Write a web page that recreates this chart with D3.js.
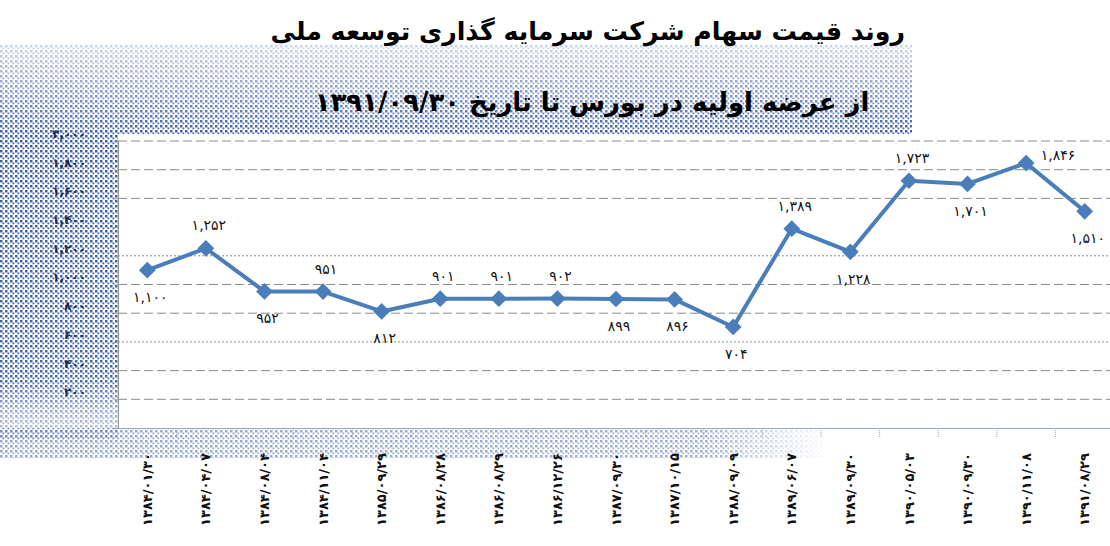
<!DOCTYPE html>
<html>
<head>
<meta charset="utf-8">
<script src="https://cdn.jsdelivr.net/npm/d3@7"></script>
<style>
  body { margin: 0; background: #fff; }
  svg { display: block; }
</style>
</head>
<body>
<div id="chart"></div>
<script>
// dates of each trading point (Persian calendar)
var dates = [
  "۱۳۸۴/۰۱/۳۰", "۱۳۸۴/۰۴/۰۷", "۱۳۸۴/۰۸/۰۴", "۱۳۸۴/۱۱/۰۴", "۱۳۸۵/۰۹/۲۹",
  "۱۳۸۶/۰۸/۲۸", "۱۳۸۶/۰۸/۲۹", "۱۳۸۶/۱۲/۲۶", "۱۳۸۷/۰۹/۳۰", "۱۳۸۷/۱۰/۱۵",
  "۱۳۸۸/۰۹/۰۹", "۱۳۸۹/۰۶/۰۷", "۱۳۸۹/۰۹/۳۰", "۱۳۹۰/۰۵/۰۳", "۱۳۹۰/۰۹/۳۰",
  "۱۳۹۰/۱۱/۰۸", "۱۳۹۱/۰۸/۲۹"
];
var prices = [1100, 1252, 952, 951, 812, 901, 901, 902, 899, 896, 704, 1389, 1228, 1723, 1701, 1846, 1510];
var yTicks = [200, 400, 600, 800, 1000, 1200, 1400, 1600, 1800, 2000];
var title1 = "روند قیمت سهام شرکت سرمایه گذاری توسعه ملی";
var title2 = "از عرضه اولیه در بورس تا تاریخ ۱۳۹۱/۰۹/۳۰";

// where excel put each data label (a = above, b = below, r = right)
var labelPlace = ["b","a","b","a","b","a","a","a","b","b","b","a","b","a","b","r","b"];

var W = 1110, H = 546;
var plotLeft = 118, plotRight = 1114, plotTop = 141, plotBottom = 428;
var blue = "#4a7ebb";
var fa = "DejaVu Sans, sans-serif";

function faDigits(s) {
  return String(s).replace(/\d/g, function(d) { return "۰۱۲۳۴۵۶۷۸۹"[+d]; });
}

var svg = d3.select("#chart").append("svg")
  .attr("width", W)
  .attr("height", H);

var defs = svg.append("defs");

// halftone look of the scanned background
var pat = defs.append("pattern")
  .attr("id", "dots")
  .attr("width", 5).attr("height", 5)
  .attr("patternUnits", "userSpaceOnUse");
pat.append("rect").attr("width", 2.5).attr("height", 2.5).attr("fill", "#3d5fa5");
pat.append("rect").attr("x", 2.5).attr("y", 2.5).attr("width", 1.8).attr("height", 1.8).attr("fill", "#3d5fa5");

function fadeGrad(id, x2, y2, stops) {
  var g = defs.append("linearGradient").attr("id", id)
    .attr("x1", 0).attr("y1", 0).attr("x2", x2).attr("y2", y2);
  stops.forEach(function(s) {
    g.append("stop").attr("offset", s[0]).attr("stop-color", "#fff").attr("stop-opacity", s[1]);
  });
  var m = defs.append("mask").attr("id", id + "M").attr("maskContentUnits", "objectBoundingBox");
  m.append("rect").attr("width", 1).attr("height", 1).attr("fill", "url(#" + id + ")");
}
fadeGrad("gTitle", 0, 1, [[0, 0.25], [0.5, 0.6], [1, 1]]);
fadeGrad("gLeft", 0, 1, [[0, 1], [0.8, 0.95], [0.9, 0.55], [1, 0.3]]);
fadeGrad("gBottom", 1, 0, [[0, 0.55], [0.85, 0.5], [1, 0]]);

svg.append("rect").attr("x", 0).attr("y", 44).attr("width", 912).attr("height", 90)
  .attr("fill", "url(#dots)").attr("mask", "url(#gTitleM)");
svg.append("rect").attr("x", 0).attr("y", 134).attr("width", plotLeft).attr("height", 306)
  .attr("fill", "url(#dots)").attr("mask", "url(#gLeftM)");
svg.append("rect").attr("x", 0).attr("y", 428).attr("width", 830).attr("height", 30)
  .attr("fill", "url(#dots)").attr("mask", "url(#gBottomM)");

// plot area
svg.append("rect")
  .attr("x", plotLeft).attr("y", plotTop)
  .attr("width", plotRight - plotLeft).attr("height", plotBottom - plotTop)
  .attr("fill", "#fff");

var x = d3.scaleBand()
  .domain(d3.range(prices.length))
  .range([plotLeft, plotRight]);

var y = d3.scaleLinear()
  .domain([0, 2000])
  .range([plotBottom, plotTop]);

// gridlines: the scan shows a mix of dashed and dotted ones
function gridDash(v) {
  if (v == 1200 || v == 600) return "2,2";
  return "9,4";
}
svg.append("g").selectAll("line")
  .data(yTicks.filter(function(v) { return v != 1400; }))
  .enter()
  .append("line")
  .attr("x1", plotLeft).attr("x2", W)
  .attr("y1", function(d) { return y(d); })
  .attr("y2", function(d) { return y(d); })
  .attr("stroke", "#8c8c8c")
  .attr("stroke-width", 1)
  .attr("stroke-dasharray", gridDash);

// y axis
var yAxis = svg.append("g")
  .attr("transform", "translate(" + plotLeft + ",0)")
  .call(d3.axisLeft(y).tickValues(yTicks).tickSize(4).tickPadding(28)
    .tickFormat(function(d) { return faDigits(d3.format(",")(d)); }));
yAxis.select(".domain").attr("stroke", "#999");
yAxis.selectAll(".tick line").attr("stroke", "#999");
yAxis.selectAll("text")
  .attr("font-family", fa)
  .attr("font-size", 12)
  .attr("font-weight", "bold")
  .attr("letter-spacing", 2)
  .attr("fill", "#1a2a50")
  .attr("dy", "-0.3em");

// x axis
var xAxis = svg.append("g")
  .attr("transform", "translate(0," + plotBottom + ")")
  .call(d3.axisBottom(x).tickSize(0).tickFormat(function(i) { return dates[i]; }));
xAxis.select(".domain").attr("stroke", "#9aa6b8");
xAxis.selectAll("text")
  .attr("font-family", fa)
  .attr("font-size", 13)
  .attr("font-weight", "bold")
  .attr("letter-spacing", 1.5)
  .attr("fill", "#111")
  .attr("text-anchor", "end")
  .attr("transform", "translate(0,25) rotate(-90)")
  .attr("dy", "0.35em")
  .attr("y", 0);

// small category separators under the axis
svg.append("g").selectAll("line")
  .data(d3.range(1, prices.length))
  .enter()
  .append("line")
  .attr("x1", function(i) { return x(i); })
  .attr("x2", function(i) { return x(i); })
  .attr("y1", plotBottom).attr("y2", plotBottom + 10)
  .attr("stroke", "#9aa6b8")
  .attr("stroke-dasharray", "1,1");

// price line
var cx = function(d, i) { return x(i) + x.bandwidth() / 2; };
var line = d3.line()
  .x(cx)
  .y(function(d) { return y(d); });

svg.append("path")
  .datum(prices)
  .attr("d", line)
  .attr("fill", "none")
  .attr("stroke", blue)
  .attr("stroke-width", 4)
  .attr("stroke-linejoin", "round");

var diamond = d3.symbol().type(d3.symbolSquare).size(140);
svg.append("g").selectAll("path")
  .data(prices)
  .enter()
  .append("path")
  .attr("d", diamond)
  .attr("fill", blue)
  .attr("transform", function(d, i) {
    return "translate(" + cx(d, i) + "," + y(d) + ") rotate(45)";
  });

// data labels
svg.append("g").selectAll("text")
  .data(prices)
  .enter()
  .append("text")
  .text(function(d) { return faDigits(d3.format(",")(d)); })
  .attr("x", function(d, i) {
    return cx(d, i) + (labelPlace[i] == "r" ? 32 : 3);
  })
  .attr("y", function(d, i) {
    var p = labelPlace[i];
    if (p == "a") return y(d) - 18;
    if (p == "r") return y(d) - 3;
    return y(d) + 32;
  })
  .attr("text-anchor", "middle")
  .attr("font-family", fa)
  .attr("font-size", 14)
  .attr("letter-spacing", 1.5)
  .attr("fill", "#111");

// titles, font size fitted to the width they take in the scan
function fitTitle(txt, xPos, yPos, anchor, width, size) {
  var t = svg.append("text")
    .attr("x", xPos).attr("y", yPos)
    .attr("text-anchor", anchor)
    .attr("direction", "rtl")
    .attr("font-family", fa)
    .attr("font-weight", "bold")
    .attr("font-size", size)
    .attr("fill", "#000")
    .text(txt);
  var len = t.node().getComputedTextLength();
  if (len > 0) t.attr("font-size", size * width / len);
}
fitTitle(title1, 905, 40, "start", 635, 20);
fitTitle(title2, 592, 111, "middle", 555, 24);
</script>
</body>
</html>
